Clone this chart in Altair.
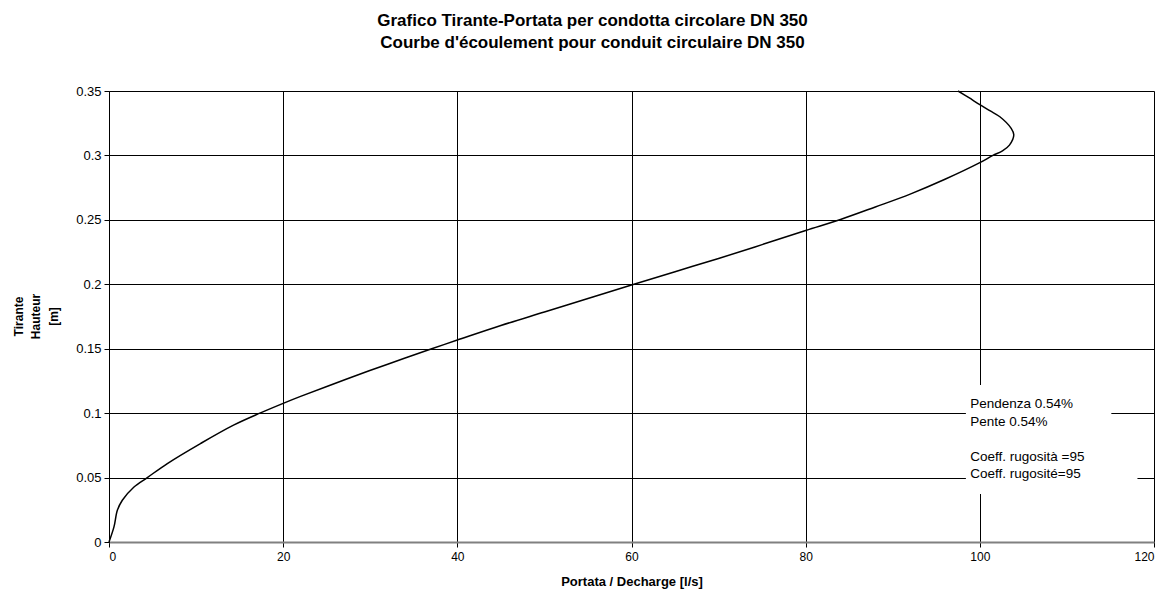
import altair as alt
import pandas as pd

# Flow rate Q [l/s] against water depth h [m] for a DN 350 circular pipe,
# listed from the empty pipe up to the full section.
portata = [0.0, 0.57, 0.96, 1.53, 2.87, 4.4, 6.7, 10.5, 14.3, 17.4, 20.0, 22.0,
           27.3, 32.0, 37.06, 40.0, 45.0, 50.0, 55.0, 60.0, 65.0, 70.0, 75.0,
           80.0, 84.0, 88.0, 92.0, 96.0, 100.0, 101.5, 102.6, 103.4, 103.9,
           103.6, 102.3, 101.2, 100.0, 98.7, 97.5]
tirante = [0.0, 0.0117, 0.0246, 0.0324, 0.0427, 0.05, 0.0609, 0.0764, 0.0907, 0.1002, 0.1076, 0.1130,
           0.1265, 0.1380, 0.15, 0.1567, 0.168, 0.1785, 0.1890, 0.1995, 0.2098, 0.2200, 0.2308,
           0.2418, 0.2503, 0.2600, 0.2700, 0.2815, 0.2944, 0.300, 0.3035, 0.308, 0.316,
           0.321, 0.330, 0.3345, 0.3394, 0.345, 0.35]

x_ticks = [0, 20, 40, 60, 80, 100, 120]
y_ticks = [0, 0.05, 0.1, 0.15, 0.2, 0.25, 0.3, 0.35]

# Text of the slope / roughness note and the white panels behind it (data units)
note_lines = ["Pendenza 0.54%", "Pente 0.54%", "Coeff. rugosità =95", "Coeff. rugosité=95"]
note_h = [0.1071, 0.0935, 0.0663, 0.0527]
note_q = 98.9
panel_q0 = [98.4, 98.4]
panel_q1 = [115.1, 118.1]
panel_h0 = [0.0815, 0.0372]
panel_h1 = [0.1218, 0.0815]

FONT = "Liberation Sans"

curve = pd.DataFrame({"Q": portata, "h": tirante, "i": range(len(portata))})
notes = pd.DataFrame({"Q": [note_q] * len(note_lines), "h": note_h, "t": note_lines})
panels = pd.DataFrame({"q0": panel_q0, "q1": panel_q1, "h0": panel_h0, "h1": panel_h1})

x_scale = alt.Scale(domain=[0, 120], nice=False, zero=False)
y_scale = alt.Scale(domain=[0, 0.35], nice=False, zero=False)

x_axis = alt.Axis(
    values=x_ticks, format="d", grid=True, gridColor="#000000", gridWidth=1,
    domainColor="#808080", domainWidth=2, tickColor="#000000", tickSize=5,
    labelFont=FONT, labelFontSize=12, labelColor="#000000", labelPadding=4,
    title="Portata / Decharge [l/s]", titleFont=FONT, titleFontSize=13,
    titleFontWeight="bold", titleColor="#000000", titlePadding=13,
)
y_axis = alt.Axis(
    values=y_ticks, format="~g", grid=True, gridColor="#000000", gridWidth=1,
    domainColor="#000000", domainWidth=1, tickColor="#000000", tickSize=5,
    labelFont=FONT, labelFontSize=13, labelColor="#000000", labelPadding=3,
    title=["Tirante", "Hauteur", "[m]"], titleFont=FONT, titleFontSize=12,
    titleFontWeight="bold", titleColor="#000000", titleLineHeight=17.5,
    titleAngle=270, titleAlign="center", titleBaseline="middle",
    titleX=-91, titleY=225,
)

line = alt.Chart(curve).mark_line(
    color="#000000", strokeWidth=1.5, interpolate="catmull-rom"
).encode(
    x=alt.X("Q:Q", scale=x_scale, axis=x_axis),
    y=alt.Y("h:Q", scale=y_scale, axis=y_axis),
    order="i:Q",
)

panel = alt.Chart(panels).mark_rect(fill="#ffffff", stroke=None).encode(
    x=alt.X("q0:Q", scale=x_scale), x2="q1:Q",
    y=alt.Y("h0:Q", scale=y_scale), y2="h1:Q",
)

note = alt.Chart(notes).mark_text(
    align="left", baseline="middle", font=FONT, fontSize=13.5, color="#000000"
).encode(
    x=alt.X("Q:Q", scale=x_scale),
    y=alt.Y("h:Q", scale=y_scale),
    text="t:N",
)

chart = alt.layer(panel, note, line).properties(
    width=1045,
    height=451,
    autosize=alt.AutoSizeParams(type="none"),
    padding={"left": 109, "top": 91, "right": 14, "bottom": 51},
    title=alt.Title(
        text=["Grafico Tirante-Portata per condotta circolare DN 350",
              "Courbe d'écoulement pour conduit circulaire DN 350"],
        anchor="middle", frame="group", dx=-39, offset=33,
        font=FONT, fontSize=17, fontWeight="bold", color="#000000", lineHeight=21.7,
    ),
).configure_view(stroke="#808080", strokeWidth=1).configure(background="#ffffff")

chart.save("out.html", embed_options={"renderer": "svg", "actions": False})
